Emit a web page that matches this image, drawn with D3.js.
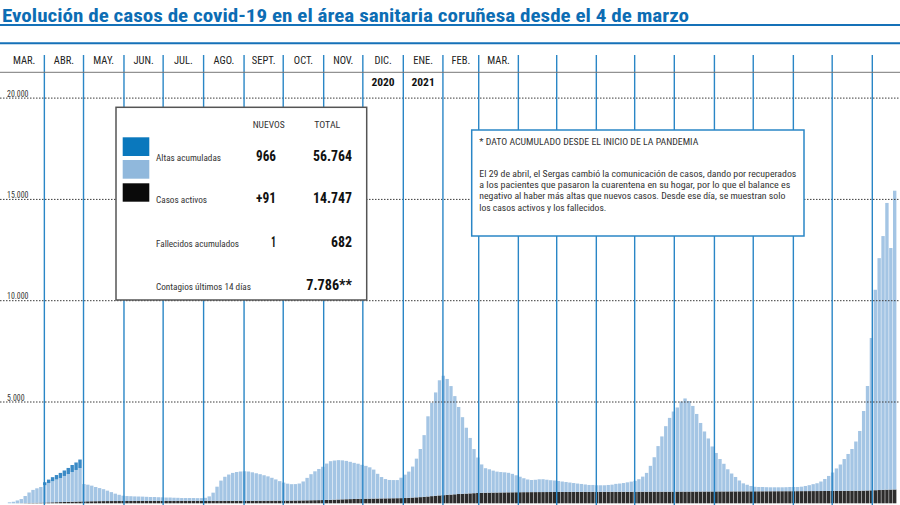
<!DOCTYPE html>
<html lang="es">
<head>
<meta charset="UTF-8">
<title>Evolución de casos de covid-19</title>
<style>
  body { margin: 0; background: #fff; }
  svg { display: block; font-family: 'Roboto Condensed', 'Liberation Sans Narrow', 'DejaVu Sans Condensed', Roboto, sans-serif; }
</style>
</head>
<body>
<svg></svg>
<script src="https://d3js.org/d3.v7.min.js"></script>
<script>
// una barra cada 3 dias desde el 4 de marzo de 2020
const startDate = new Date(2020, 2, 4);
const stepDays = 3;

const activos = [
  50, 73, 136, 204, 350, 520, 642, 715, 774, 852,
  957, 1041, 1120, 1190, 1284, 1373, 1468, 1562, 1651, 854,
  821, 770, 701, 644, 587, 515, 441, 365, 307, 263,
  242, 234, 224, 218, 213, 202, 192, 191, 181, 176,
  165, 165, 155, 150, 139, 139, 139, 139, 133, 135,
  149, 220, 403, 698, 997, 1186, 1297, 1377, 1421, 1446,
  1458, 1444, 1405, 1357, 1311, 1258, 1202, 1130, 1049, 963,
  890, 837, 809, 811, 836, 935, 1109, 1287, 1426, 1538,
  1644, 1795, 1906, 1931, 1942, 1925, 1892, 1840, 1783, 1735,
  1675, 1620, 1546, 1430, 1219, 1056, 953, 906, 898, 895,
  1009, 1155, 1293, 1530, 1910, 2375, 3047, 3958, 4607, 5100,
  5682, 5894, 5722, 5356, 4847, 4297, 3781, 3250, 2737, 2176,
  1750, 1400, 1210, 1153, 1084, 1032, 1008, 991, 964, 910,
  837, 763, 687, 625, 598, 608, 632, 634, 608, 583,
  567, 541, 515, 490, 464, 439, 413, 393, 367, 342,
  341, 325, 325, 324, 339, 353, 392, 407, 432, 466,
  501, 540, 620, 746, 930, 1277, 1702, 2251, 2728, 3233,
  3642, 3955, 4154, 4448, 4598, 4472, 4226, 3830, 3384, 2963,
  2617, 2221, 1900, 1599, 1364, 1093, 882, 711, 535, 395,
  324, 264, 223, 213, 212, 201, 195, 194, 193, 193,
  197, 207, 206, 205, 219, 253, 292, 341, 385, 469,
  592, 741, 910, 1108, 1302, 1570, 1818, 2062, 2430, 2948,
  3927, 5156, 7520, 9893, 11445, 12526, 14153, 11922, 14747
];

const fallecidos = [
  0, 2, 4, 6, 10, 14, 19, 25, 31, 38,
  43, 49, 55, 60, 66, 72, 77, 83, 89, 94,
  98, 101, 104, 107, 109, 110, 111, 112, 113, 114,
  115, 116, 116, 117, 117, 118, 118, 119, 119, 119,
  120, 120, 120, 120, 121, 121, 121, 121, 122, 122,
  122, 122, 122, 122, 123, 123, 123, 123, 124, 124,
  124, 125, 125, 126, 126, 127, 128, 129, 130, 131,
  132, 133, 135, 137, 140, 143, 146, 150, 153, 156,
  160, 166, 173, 180, 188, 195, 201, 207, 213, 219,
  225, 228, 231, 234, 237, 240, 243, 246, 249, 252,
  255, 260, 271, 283, 294, 305, 318, 336, 354, 372,
  390, 402, 416, 430, 444, 458, 470, 480, 490, 500,
  510, 518, 522, 526, 529, 532, 535, 538, 541, 543,
  546, 548, 550, 551, 552, 553, 554, 555, 556, 557,
  558, 559, 560, 560, 561, 561, 562, 562, 563, 563,
  564, 565, 565, 566, 566, 567, 567, 568, 568, 569,
  569, 570, 570, 571, 571, 572, 572, 573, 573, 574,
  574, 575, 576, 577, 577, 578, 579, 580, 581, 582,
  583, 584, 585, 586, 586, 587, 588, 589, 590, 590,
  591, 591, 592, 592, 593, 594, 595, 596, 597, 597,
  598, 598, 599, 600, 601, 602, 603, 604, 605, 606,
  608, 609, 610, 612, 613, 615, 617, 618, 620, 622,
  628, 634, 640, 647, 655, 664, 672, 678, 682
];

// altas acumuladas, solo hasta el 29 de abril
const altas = [0, 0, 0, 0, 0, 0, 0, 0, 0, 150, 170, 200, 220, 250, 270, 300, 345, 370, 420];

const monthLabels = ['MAR.', 'ABR.', 'MAY.', 'JUN.', 'JUL.', 'AGO.', 'SEPT.', 'OCT.', 'NOV.', 'DIC.', 'ENE.', 'FEB.', 'MAR.'];
const yearLabels = ['2020', '2021'];
const yTicks = [5000, 10000, 15000, 20000];

const legendLabels = ['Altas acumuladas', 'Casos activos', 'Fallecidos acumulados', 'Contagios últimos 14 días'];
const legendNuevos = ['966', '+91', '1', ''];
const legendTotal = ['56.764', '14.747', '682', '7.786**'];

const noteTitle = '* DATO ACUMULADO DESDE EL INICIO DE LA PANDEMIA';
const noteLines = [
  'El 29 de abril, el Sergas cambió la comunicación de casos, dando por recuperados',
  'a los pacientes que pasaron la cuarentena en su hogar, por lo que el balance es',
  'negativo al haber más altas que nuevos casos. Desde ese día, se muestran solo',
  'los casos activos y los fallecidos.'
];

const width = 900, height = 505;
const blue = '#2a86c6';

const table = activos.map((a, i) => ({
  date: d3.timeDay.offset(startDate, i * stepDays),
  fallecidos: fallecidos[i],
  activos: a,
  altas: altas[i] || 0
}));

const svg = d3.select('svg').attr('width', width).attr('height', height);

const x = d3.scaleTime()
  .domain([new Date(2020, 2, 1), new Date(2021, 0, 1), new Date(2021, 7, 1), new Date(2022, 0, 1)])
  .range([3.9, 403.3, 674.3, 872.3]);

const y = d3.scaleLinear()
  .domain([0, 20000])
  .range([503.3, 98.1]);

const fmt = d3.formatLocale({ decimal: ',', thousands: '.', grouping: [3], currency: ['', '€'] }).format(',d');

// barras apiladas
const stack = d3.stack().keys(['fallecidos', 'activos', 'altas'])(table);
const colors = { fallecidos: '#2c2c2c', activos: '#a4c5e4', altas: '#3a8ac6' };

svg.append('g')
  .selectAll('g')
  .data(stack)
  .join('g')
  .attr('fill', s => colors[s.key])
  .selectAll('rect')
  .data(s => s.filter(d => d[1] > d[0]))
  .join('rect')
  .attr('x', d => x(d.data.date))
  .attr('y', d => y(d[1]))
  .attr('width', d => x(d3.timeDay.offset(d.data.date, stepDays)) - x(d.data.date) - 0.5)
  .attr('height', d => y(d[0]) - y(d[1]));

// lineas de referencia punteadas
const grid = svg.append('g');
grid.selectAll('line')
  .data(yTicks)
  .join('line')
  .attr('x1', 0).attr('x2', width)
  .attr('y1', d => y(d)).attr('y2', d => y(d))
  .attr('stroke', '#3a3a3a')
  .attr('stroke-width', 1)
  .attr('stroke-dasharray', '1.5,1.5');

grid.selectAll('text')
  .data(yTicks)
  .join('text')
  .attr('x', 7)
  .attr('y', d => y(d) - 1.5)
  .attr('font-size', 8.5)
  .attr('fill', '#333')
  .attr('textLength', d => d >= 10000 ? 21.5 : 17.5)
  .attr('lengthAdjust', 'spacingAndGlyphs')
  .text(d => fmt(d));

// separadores de meses
const months = d3.timeMonth.range(new Date(2020, 3, 1), new Date(2022, 0, 2));
svg.append('g')
  .selectAll('line')
  .data(months)
  .join('line')
  .attr('x1', d => x(d)).attr('x2', d => x(d))
  .attr('y1', 55).attr('y2', height)
  .attr('stroke', blue)
  .attr('stroke-width', 1.4);

// cabecera
svg.append('text')
  .attr('x', 2).attr('y', 21.7)
  .attr('font-size', 19)
  .attr('font-weight', 700)
  .attr('fill', '#0c6db4')
  .attr('textLength', 687)
  .attr('lengthAdjust', 'spacingAndGlyphs')
  .text('Evolución de casos de covid-19 en el área sanitaria coruñesa desde el 4 de marzo');

svg.append('line').attr('x1', 0).attr('x2', width).attr('y1', 25).attr('y2', 25)
  .attr('stroke', '#1571b8').attr('stroke-width', 2);
svg.append('line').attr('x1', 0).attr('x2', width).attr('y1', 43.3).attr('y2', 43.3)
  .attr('stroke', '#1571b8').attr('stroke-width', 2);
svg.append('line').attr('x1', 0).attr('x2', width).attr('y1', 72.3).attr('y2', 72.3)
  .attr('stroke', '#777').attr('stroke-width', 1);

const labelMonths = d3.timeMonth.range(new Date(2020, 2, 1), new Date(2021, 3, 1));
svg.append('g')
  .selectAll('text')
  .data(labelMonths)
  .join('text')
  .attr('x', d => (x(d) + x(d3.timeMonth.offset(d, 1))) / 2)
  .attr('y', 64.3)
  .attr('text-anchor', 'middle')
  .attr('font-size', 10.5)
  .attr('fill', '#222')
  .text((d, i) => monthLabels[i]);

const yearMonths = [new Date(2020, 11, 1), new Date(2021, 0, 1)];
svg.append('g')
  .selectAll('text')
  .data(yearMonths)
  .join('text')
  .attr('x', d => (x(d) + x(d3.timeMonth.offset(d, 1))) / 2)
  .attr('y', 86)
  .attr('text-anchor', 'middle')
  .attr('font-size', 11.5)
  .attr('font-weight', 700)
  .attr('fill', '#111')
  .text((d, i) => yearLabels[i]);

// leyenda
const leg = svg.append('g');
leg.append('rect')
  .attr('x', 116).attr('y', 107.3).attr('width', 250.7).attr('height', 192.7)
  .attr('fill', '#fff').attr('stroke', '#555').attr('stroke-width', 1.5);

function txt(g, px, py, s, size, opts = {}) {
  const t = g.append('text')
    .attr('x', px).attr('y', py)
    .attr('font-size', size)
    .attr('fill', opts.fill || '#333')
    .attr('font-weight', opts.bold ? 700 : 400)
    .attr('text-anchor', opts.anchor || 'start')
    .text(s);
  if (opts.len) t.attr('textLength', opts.len).attr('lengthAdjust', 'spacingAndGlyphs');
  return t;
}

txt(leg, 252.7, 128.3, 'NUEVOS', 9.5, { len: 32 });
txt(leg, 314.3, 128.3, 'TOTAL', 9.5, { len: 26 });

const swatches = ['#0a78bd', '#90b8dc', '#0a0a0a'];
leg.selectAll('.sw')
  .data(swatches)
  .join('rect')
  .attr('class', 'sw')
  .attr('x', 122.7)
  .attr('y', (d, i) => [137.3, 160, 183.3][i])
  .attr('width', 26.6)
  .attr('height', (d, i) => [18.7, 18.7, 18.4][i])
  .attr('fill', d => d);

const rowY = [160.5, 203, 247, 289.5];
const labelLen = [65, 51, 83, 95];
const nuevosLen = [20, 20, 5, 0];
const totalLen = [39, 39, 21, 45.7];
legendLabels.forEach((s, i) => {
  txt(leg, 156, rowY[i], s, 9.8, { len: labelLen[i] });
  if (legendNuevos[i]) txt(leg, 276, rowY[i], legendNuevos[i], 14.5, { bold: true, anchor: 'end', fill: '#111', len: nuevosLen[i] });
  txt(leg, 352, rowY[i], legendTotal[i], 14.5, { bold: true, anchor: 'end', fill: '#111', len: totalLen[i] });
});

// nota
const note = svg.append('g');
note.append('rect')
  .attr('x', 471.7).attr('y', 130).attr('width', 332.3).attr('height', 106)
  .attr('fill', '#fff').attr('stroke', blue).attr('stroke-width', 1.5);
txt(note, 479.3, 145, noteTitle, 9.5, { len: 219 });
const noteLen = [317, 311, 306, 127];
noteLines.forEach((s, i) => {
  txt(note, 479.3, 176.7 + i * 11.3, s, 9.5, { len: noteLen[i] });
});
</script>
</body>
</html>
